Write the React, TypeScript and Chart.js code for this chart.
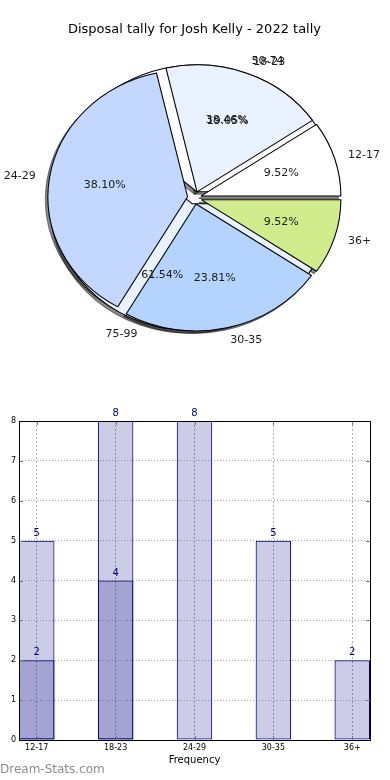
import React, { useEffect, useRef } from 'react';
import { Chart, registerables } from 'chart.js';

Chart.register(...registerables);

const FONT = "'DejaVu Sans', sans-serif";

// ---- pie data ----
const TITLE = 'Disposal tally for Josh Kelly - 2022 tally';
const ageGroups = ['12-17', '18-23', '24-29', '30-35', '36+'];
const ageTally = [2, 4, 8, 5, 2];
const ageColors = ['#ffffff', '#eaf2ff', '#c4d8ff', '#b4d4ff', '#d0ec8c'];
const rangeGroups = ['50-74', '75-99'];
const rangeTally = [5, 8];
const rangeColors = ['#ffffff', '#eaf2ff'];

// ---- bar data ----
const barCategories = ['12-17', '18-23', '24-29', '30-35', '36+'];
const totalTally = [5, 8, 8, 5, 2];
const subTally = [2, 4, null, null, null];
const yTickValues = [0, 1, 2, 3, 4, 5, 6, 7, 8];

const PIE_RY = 127;
const SX = 1.1;
const EXPLODE = 0.05 * PIE_RY;

const rev = <T,>(a: T[]) => a.slice().reverse();
const pieSets = [
  { names: rev(ageGroups), values: rev(ageTally) },
  { names: rev(rangeGroups), values: rev(rangeTally) },
];

const centerX = (chart: any) => (chart.chartArea.left + chart.chartArea.right) / 2;

const fullPiePlugin = {
  id: 'fullPie',
  afterDatasetsUpdate(chart: any) {
    chart.data.datasets.forEach((_: any, di: number) => {
      chart.getDatasetMeta(di).data.forEach((a: any) => {
        const mid = (a.startAngle + a.endAngle) / 2;
        a.outerRadius = PIE_RY;
        a.innerRadius = 0;
        a.x += Math.cos(mid) * EXPLODE;
        a.y += Math.sin(mid) * EXPLODE;
      });
    });
  },
};

const ellipsePlugin = {
  id: 'ellipse',
  beforeDatasetsDraw(chart: any) {
    const ctx = chart.ctx;
    const cx = centerX(chart);
    ctx.save();
    ctx.translate(cx, 0);
    ctx.scale(SX, 1);
    ctx.translate(-cx, 0);
    // shadow pass
    ctx.save();
    ctx.translate(-2.5 / SX, 2.5);
    ctx.filter = 'brightness(0) opacity(0.45)';
    for (let di = chart.data.datasets.length - 1; di >= 0; di--) {
      chart.getDatasetMeta(di).data.forEach((a: any) => a.draw(ctx));
    }
    ctx.restore();
  },
  afterDatasetsDraw(chart: any) {
    chart.ctx.restore();
  },
};

const pieLabelPlugin = {
  id: 'pieLabels',
  afterDraw(chart: any) {
    const ctx = chart.ctx;
    const cx = centerX(chart);
    const tx = (px: number) => cx + (px - cx) * SX;
    ctx.save();
    ctx.font = `11px ${FONT}`;
    ctx.fillStyle = '#1a1a1a';
    ctx.textBaseline = 'middle';
    chart.data.datasets.forEach((_: any, di: number) => {
      const set = pieSets[di];
      const total = set.values.reduce((s, v) => s + v, 0);
      chart.getDatasetMeta(di).data.forEach((arc: any, i: number) => {
        const { x, y, startAngle, endAngle, outerRadius } = arc;
        const mid = (startAngle + endAngle) / 2;
        const c = Math.cos(mid);
        const s = Math.sin(mid);
        const lr = 1.1 * outerRadius;
        const pr = 0.6 * outerRadius;
        ctx.textAlign = c > 0 ? 'left' : 'right';
        ctx.fillText(set.names[i], tx(x + lr * c), y + lr * s);
        ctx.textAlign = 'center';
        ctx.fillText(((set.values[i] / total) * 100).toFixed(2) + '%', tx(x + pr * c), y + pr * s);
      });
    });
    ctx.restore();
  },
};

const barDecorPlugin = {
  id: 'barDecor',
  afterDatasetsDraw(chart: any) {
    const ctx = chart.ctx;
    ctx.save();
    ctx.font = `10px ${FONT}`;
    ctx.fillStyle = '#000080';
    ctx.textAlign = 'center';
    ctx.textBaseline = 'alphabetic';
    chart.data.datasets.forEach((ds: any, di: number) => {
      chart.getDatasetMeta(di).data.forEach((bar: any, i: number) => {
        const v = ds.data[i].y;
        if (v == null) return;
        ctx.fillText(String(v), bar.x, bar.y - 5);
      });
    });
    ctx.restore();
  },
  afterDraw(chart: any) {
    const ctx = chart.ctx;
    const { left, right, top, bottom } = chart.chartArea;
    ctx.save();
    ctx.lineWidth = 1;
    ctx.beginPath();
    const xs = chart.scales.x;
    const ys = chart.scales.y;
    xs.ticks.forEach((t: any) => {
      const px = Math.round(xs.getPixelForValue(t.value)) + 0.5;
      ctx.moveTo(px, bottom);
      ctx.lineTo(px, bottom - 4);
      ctx.moveTo(px, top);
      ctx.lineTo(px, top + 4);
    });
    ys.ticks.forEach((t: any) => {
      const py = Math.round(ys.getPixelForValue(t.value)) + 0.5;
      ctx.moveTo(left, py);
      ctx.lineTo(left + 4, py);
      ctx.moveTo(right, py);
      ctx.lineTo(right - 4, py);
    });
    ctx.strokeStyle = '#777';
    ctx.stroke();
    ctx.strokeStyle = '#000';
    ctx.strokeRect(Math.round(left) + 0.5, Math.round(top) + 0.5, Math.round(right - left), Math.round(bottom - top));
    ctx.font = `12px ${FONT}`;
    ctx.fillStyle = '#8c8c8c';
    ctx.textAlign = 'left';
    ctx.textBaseline = 'middle';
    ctx.fillText('Dream-Stats.com', 0, chart.height - 10);
    ctx.restore();
  },
};

export default function App() {
  const pieRef = useRef<HTMLCanvasElement>(null);
  const barRef = useRef<HTMLCanvasElement>(null);

  useEffect(() => {
    const pie = new Chart(pieRef.current as HTMLCanvasElement, {
      type: 'pie',
      data: {
        labels: rev(ageGroups),
        datasets: [
          {
            data: rev(ageTally),
            backgroundColor: rev(ageColors),
            borderColor: '#000',
            borderWidth: 1,
          },
          {
            data: rev(rangeTally),
            backgroundColor: rev(rangeColors),
            borderColor: '#000',
            borderWidth: 1,
          },
        ],
      },
      options: {
        animation: false,
        responsive: false,
        events: [],
        rotation: 90,
        radius: PIE_RY,
        layout: { padding: { left: 0, right: 1, top: 0, bottom: 42 } },
        plugins: {
          legend: { display: false },
          tooltip: { enabled: false },
          title: {
            display: true,
            text: TITLE,
            color: '#000',
            font: { family: FONT, size: 13, weight: 'normal' },
            padding: { top: 22, bottom: 10 },
          },
        },
      } as any,
      plugins: [fullPiePlugin, ellipsePlugin, pieLabelPlugin],
    });

    const barOpts = {
      backgroundColor: 'rgba(0,0,128,0.2)',
      borderColor: '#000080',
      borderWidth: 1,
      borderSkipped: false,
      grouped: false,
      categoryPercentage: 1,
      barPercentage: 0.45,
    };

    const bar = new Chart(barRef.current as HTMLCanvasElement, {
      type: 'bar',
      data: {
        datasets: [
          { data: totalTally.map((v, i) => ({ x: i, y: v })), ...barOpts },
          { data: subTally.map((v, i) => ({ x: i, y: v })), ...barOpts },
        ],
      },
      options: {
        animation: false,
        responsive: false,
        events: [],
        layout: { padding: { left: 0, right: 20, top: 21, bottom: 0 } },
        plugins: { legend: { display: false }, tooltip: { enabled: false } },
        scales: {
          x: {
            type: 'linear',
            offset: false,
            min: -0.225,
            max: 4.225,
            afterBuildTicks: (s: any) => {
              s.ticks = barCategories.map((_, i) => ({ value: i }));
            },
            afterFit: (s: any) => {
              s.height = 40;
            },
            ticks: {
              callback: (v: any) => barCategories[Math.round(Number(v))] ?? '',
              color: '#000',
              font: { family: FONT, size: 8 },
              padding: 3,
              autoSkip: false,
              maxRotation: 0,
            },
            grid: { offset: false, color: 'rgba(140,140,140,0.7)', lineWidth: 1, drawTicks: false },
            border: { display: false, dash: [2, 2] },
            title: {
              display: true,
              text: 'Frequency',
              color: '#000',
              font: { family: FONT, size: 10 },
              padding: { top: 0, bottom: 14 },
            },
          },
          y: {
            min: 0,
            max: 8,
            afterBuildTicks: (s: any) => {
              s.ticks = yTickValues.map((v) => ({ value: v }));
            },
            afterFit: (s: any) => {
              s.width = 19;
            },
            ticks: {
              color: '#000',
              font: { family: FONT, size: 8 },
              padding: 3,
            },
            grid: { color: 'rgba(150,150,150,0.8)', lineWidth: 1, drawTicks: false },
            border: { display: false, dash: [1, 2] },
          },
        },
      } as any,
      plugins: [barDecorPlugin],
    });

    return () => {
      pie.destroy();
      bar.destroy();
    };
  }, []);

  return (
    <div style={{ position: 'absolute', left: 0, top: 0, width: 390, height: 780, background: '#fff' }}>
      <canvas ref={pieRef} width={390} height={390} style={{ position: 'absolute', left: 0, top: 0 }} />
      <canvas ref={barRef} width={390} height={380} style={{ position: 'absolute', left: 0, top: 400 }} />
    </div>
  );
}
